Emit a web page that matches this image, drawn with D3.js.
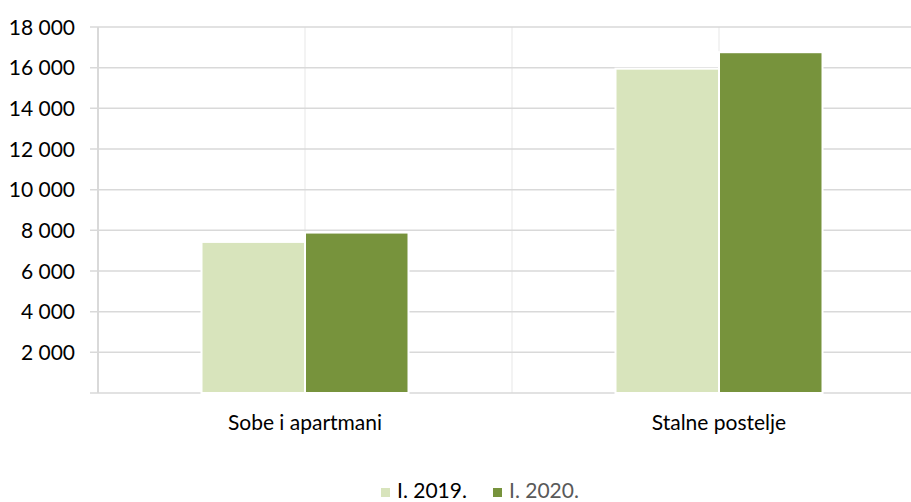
<!DOCTYPE html>
<html lang="hr">
<head>
  <meta charset="UTF-8">
  <title>Sobe i postelje</title>
  <script src="https://d3js.org/d3.v7.min.js"></script>
  <style>
    body {
      margin: 0;
      background: #fff;
      font-family: Lato, "Open Sans", sans-serif;
    }
    svg { display: block; }
  </style>
</head>
<body>
  <div id="chart"></div>

  <script>
    const categories = ["Sobe i apartmani", "Stalne postelje"];
    const seriesNames = ["I. 2019.", "I. 2020."];
    const values2019 = [7430, 15950];
    const values2020 = [7890, 16760];
    const yTicks = [2000, 4000, 6000, 8000, 10000, 12000, 14000, 16000, 18000];

    const colors = ["#d8e4bc", "#77933c"];
    const legendText = ["#000", "#595959"];

    const width = 911, height = 502;
    const plotLeft = 98, plotRight = 926, plotTop = 27, plotBottom = 393;

    const rows = categories.map((c, i) => ({
      category: c,
      vals: [values2019[i], values2020[i]]
    }));

    const svg = d3.select("#chart").append("svg")
      .attr("width", width)
      .attr("height", height);

    const x = d3.scaleBand().domain(categories).range([plotLeft, plotRight]);
    const bw = x.bandwidth();
    const xs = d3.scaleBand().domain(seriesNames).range([bw * 0.25, bw * 0.75]);
    const y = d3.scaleLinear().domain([0, 18000]).range([plotBottom, plotTop]);

    // vertical grid lines (band edges and centres)
    const vx = [];
    categories.forEach(c => { vx.push(x(c) + bw / 2, x(c) + bw); });
    svg.append("g").selectAll("line")
      .data(vx)
      .join("line")
      .attr("x1", d => d).attr("x2", d => d)
      .attr("y1", plotTop).attr("y2", plotBottom)
      .attr("stroke", "#efefef")
      .attr("stroke-width", 1.5);

    // horizontal grid lines
    svg.append("g").selectAll("line")
      .data([0].concat(yTicks))
      .join("line")
      .attr("x1", 90).attr("x2", width)
      .attr("y1", d => y(d)).attr("y2", d => y(d))
      .attr("stroke", "#d9d9d9")
      .attr("stroke-width", 1.5);

    // left axis line
    svg.append("line")
      .attr("x1", plotLeft).attr("x2", plotLeft)
      .attr("y1", plotTop).attr("y2", plotBottom)
      .attr("stroke", "#d9d9d9")
      .attr("stroke-width", 2);

    // bars
    svg.append("g").selectAll("g")
      .data(rows)
      .join("g")
      .attr("transform", d => `translate(${x(d.category)},0)`)
      .selectAll("rect")
      .data(d => d.vals.map((v, i) => ({ name: seriesNames[i], v, i })))
      .join("rect")
      .attr("x", d => xs(d.name))
      .attr("width", xs.bandwidth())
      .attr("y", d => y(d.v))
      .attr("height", d => y(0) - y(d.v))
      .attr("fill", d => colors[d.i])
      .attr("stroke", "#fff")
      .attr("stroke-width", 2);

    // y tick labels
    const fmt = d => d3.format(",")(d).replace(/,/g, " ");
    svg.append("g").selectAll("text")
      .data(yTicks)
      .join("text")
      .attr("x", 75)
      .attr("y", d => y(d))
      .attr("dy", "0.36em")
      .attr("text-anchor", "end")
      .style("font-size", "21px")
      .style("fill", "#000")
      .text(fmt);

    // category labels
    svg.append("g").selectAll("text")
      .data(categories)
      .join("text")
      .attr("x", d => x(d) + bw / 2)
      .attr("y", 430)
      .attr("text-anchor", "middle")
      .style("font-size", "21px")
      .style("fill", "#000")
      .text(d => d);

    // legend
    const lx = [381, 493];
    const legend = svg.append("g").selectAll("g")
      .data(seriesNames)
      .join("g")
      .attr("transform", (d, i) => `translate(${lx[i]},0)`);
    legend.append("rect")
      .attr("x", 0).attr("y", 488)
      .attr("width", 9).attr("height", 9)
      .attr("fill", (d, i) => colors[i]);
    legend.append("text")
      .attr("x", 16).attr("y", 498)
      .style("font-size", "21px")
      .style("fill", (d, i) => legendText[i])
      .text(d => d);
  </script>
</body>
</html>
